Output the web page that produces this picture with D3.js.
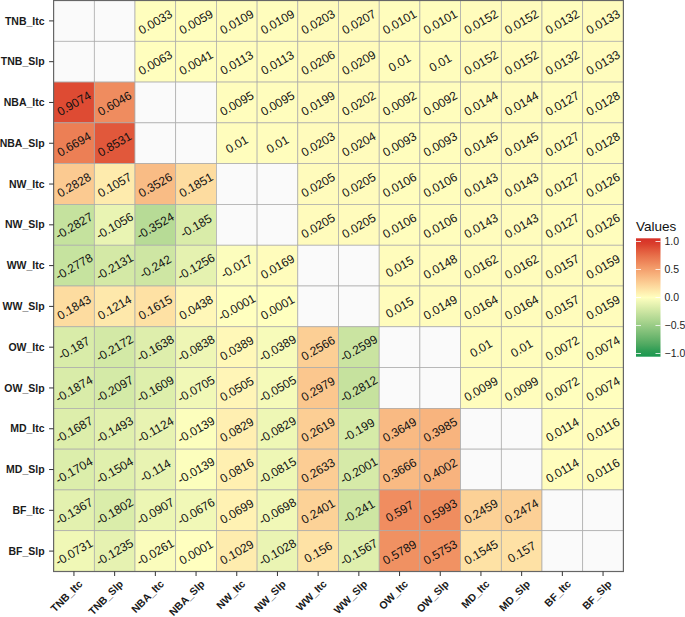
<!DOCTYPE html>
<html><head><meta charset="utf-8">
<script src="https://cdn.jsdelivr.net/npm/d3@7"></script>
<style>body{margin:0;background:#fff}svg{display:block}text{font-family:"Liberation Sans",Arial,Helvetica,sans-serif}</style>
</head><body>
<svg id="chart" width="685" height="617"></svg>
<script>
const labels = ["TNB_Itc","TNB_Slp","NBA_Itc","NBA_Slp","NW_Itc","NW_Slp","WW_Itc","WW_Slp","OW_Itc","OW_Slp","MD_Itc","MD_Slp","BF_Itc","BF_Slp"];
const rowTNB_Itc = [null,null,0.0033,0.0059,0.0109,0.0109,0.0203,0.0207,0.0101,0.0101,0.0152,0.0152,0.0132,0.0133];
const rowTNB_Slp = [null,null,0.0063,0.0041,0.0113,0.0113,0.0206,0.0209,0.01,0.01,0.0152,0.0152,0.0132,0.0133];
const rowNBA_Itc = [0.9074,0.6046,null,null,0.0095,0.0095,0.0199,0.0202,0.0092,0.0092,0.0144,0.0144,0.0127,0.0128];
const rowNBA_Slp = [0.6694,0.8531,null,null,0.01,0.01,0.0203,0.0204,0.0093,0.0093,0.0145,0.0145,0.0127,0.0128];
const rowNW_Itc = [0.2828,0.1057,0.3526,0.1851,null,null,0.0205,0.0205,0.0106,0.0106,0.0143,0.0143,0.0127,0.0126];
const rowNW_Slp = [-0.2827,-0.1056,-0.3524,-0.185,null,null,0.0205,0.0205,0.0106,0.0106,0.0143,0.0143,0.0127,0.0126];
const rowWW_Itc = [-0.2778,-0.2131,-0.242,-0.1256,-0.017,0.0169,null,null,0.015,0.0148,0.0162,0.0162,0.0157,0.0159];
const rowWW_Slp = [0.1843,0.1214,0.1615,0.0438,-0.0001,0.0001,null,null,0.015,0.0149,0.0164,0.0164,0.0157,0.0159];
const rowOW_Itc = [-0.187,-0.2172,-0.1638,-0.0838,0.0389,-0.0389,0.2566,-0.2599,null,null,0.01,0.01,0.0072,0.0074];
const rowOW_Slp = [-0.1874,-0.2097,-0.1609,-0.0705,0.0505,-0.0505,0.2979,-0.2812,null,null,0.0099,0.0099,0.0072,0.0074];
const rowMD_Itc = [-0.1687,-0.1493,-0.1124,-0.0139,0.0829,-0.0829,0.2619,-0.199,0.3649,0.3985,null,null,0.0114,0.0116];
const rowMD_Slp = [-0.1704,-0.1504,-0.114,-0.0139,0.0816,-0.0815,0.2633,-0.2001,0.3666,0.4002,null,null,0.0114,0.0116];
const rowBF_Itc = [-0.1367,-0.1802,-0.0907,-0.0676,0.0699,-0.0698,0.2401,-0.241,0.597,0.5993,0.2459,0.2474,null,null];
const rowBF_Slp = [-0.0731,-0.1235,-0.0261,0.0001,0.1029,-0.1028,0.156,-0.1567,0.5789,0.5753,0.1545,0.157,null,null];
const matrix = [rowTNB_Itc,rowTNB_Slp,rowNBA_Itc,rowNBA_Slp,rowNW_Itc,rowNW_Slp,rowWW_Itc,rowWW_Slp,rowOW_Itc,rowOW_Slp,rowMD_Itc,rowMD_Slp,rowBF_Itc,rowBF_Slp];
const legendTicks = [1.0, 0.5, 0.0, -0.5, -1.0];
const legendTitle = "Values";

const svg = d3.select("#chart");
const L = 53.6, R = 623.4, T = 0.5, B = 571.5;
const x = d3.scaleBand().domain(labels).range([L, R]);
const y = d3.scaleBand().domain(labels).range([T, B]);
const color = d3.scaleLinear().domain([-1, 0, 1]).range(["#1a9850", "#ffffbf", "#d73027"]).interpolate(d3.interpolateLab).clamp(true);

const cells = [];
matrix.forEach((row, i) => row.forEach((v, j) => cells.push({r: labels[i], c: labels[j], v})));

svg.append("g").selectAll("rect").data(cells).join("rect")
  .attr("x", d => x(d.c)).attr("y", d => y(d.r))
  .attr("width", x.bandwidth()).attr("height", y.bandwidth())
  .attr("fill", d => d.v === null ? "#fafafa" : color(d.v))
  .attr("stroke", "#aaaaaa").attr("stroke-width", 0.7);

svg.append("g").selectAll("text").data(cells.filter(d => d.v !== null)).join("text")
  .attr("transform", d => `translate(${x(d.c) + x.bandwidth() / 2},${y(d.r) + y.bandwidth() / 2 + 1}) rotate(-30)`)
  .attr("text-anchor", "middle").attr("dy", "0.35em")
  .attr("font-size", 12).attr("fill", "#111")
  .text(d => String(d.v));

svg.append("rect").attr("x", L).attr("y", T).attr("width", R - L).attr("height", B - T)
  .attr("fill", "none").attr("stroke", "#666").attr("stroke-width", 1.2);

// y axis
const ya = svg.append("g");
labels.forEach(l => {
  const cy = y(l) + y.bandwidth() / 2;
  ya.append("line").attr("x1", L - 4.5).attr("x2", L).attr("y1", cy).attr("y2", cy).attr("stroke", "#333").attr("stroke-width", 1);
  ya.append("text").attr("x", L - 9).attr("y", cy).attr("dy", "0.35em").attr("text-anchor", "end")
    .attr("font-weight", "bold").attr("font-size", 10.5).attr("fill", "#1a1a1a").text(l);
});
// x axis
const xa = svg.append("g");
labels.forEach(l => {
  const cx = x(l) + x.bandwidth() / 2;
  xa.append("line").attr("x1", cx).attr("x2", cx).attr("y1", B).attr("y2", B + 4.5).attr("stroke", "#333").attr("stroke-width", 1);
  xa.append("text").attr("transform", `translate(${cx + 4},${B + 8}) rotate(-45)`).attr("text-anchor", "end").attr("dy", "0.7em")
    .attr("font-weight", "bold").attr("font-size", 10.5).attr("fill", "#1a1a1a").text(l);
});

// legend
const lx = 636, lw = 24.5, ltop = 238.3, lbot = 356.7;
const ls = d3.scaleLinear().domain([1, -1]).range([241.5, 353.5]);
const defs = svg.append("defs");
const grad = defs.append("linearGradient").attr("id", "lg").attr("x1", 0).attr("x2", 0).attr("y1", 0).attr("y2", 1);
const gStops = d3.range(0, 1.0001, 0.05);
const lsInv = d3.scaleLinear().domain([0, 1]).range([ls.invert(ltop), ls.invert(lbot)]);
grad.selectAll("stop").data(gStops).join("stop")
  .attr("offset", d => d).attr("stop-color", d => color(lsInv(d)));
svg.append("rect").attr("x", lx).attr("y", ltop).attr("width", lw).attr("height", lbot - ltop).attr("fill", "url(#lg)");
legendTicks.forEach(t => {
  const ty = ls(t);
  svg.append("line").attr("x1", lx).attr("x2", lx + 5).attr("y1", ty).attr("y2", ty).attr("stroke", "#fff").attr("stroke-width", 1).attr("opacity", 0.8);
  svg.append("line").attr("x1", lx + lw - 5).attr("x2", lx + lw).attr("y1", ty).attr("y2", ty).attr("stroke", "#fff").attr("stroke-width", 1).attr("opacity", 0.8);
  svg.append("text").attr("x", lx + lw + 4).attr("y", ty).attr("dy", "0.35em")
    .attr("font-size", 10.5).attr("fill", "#222").text(d3.format(".1f")(t));
});
svg.append("text").attr("x", lx).attr("y", 231).attr("font-size", 13.5).attr("fill", "#111").text(legendTitle);
</script>
</body></html>
